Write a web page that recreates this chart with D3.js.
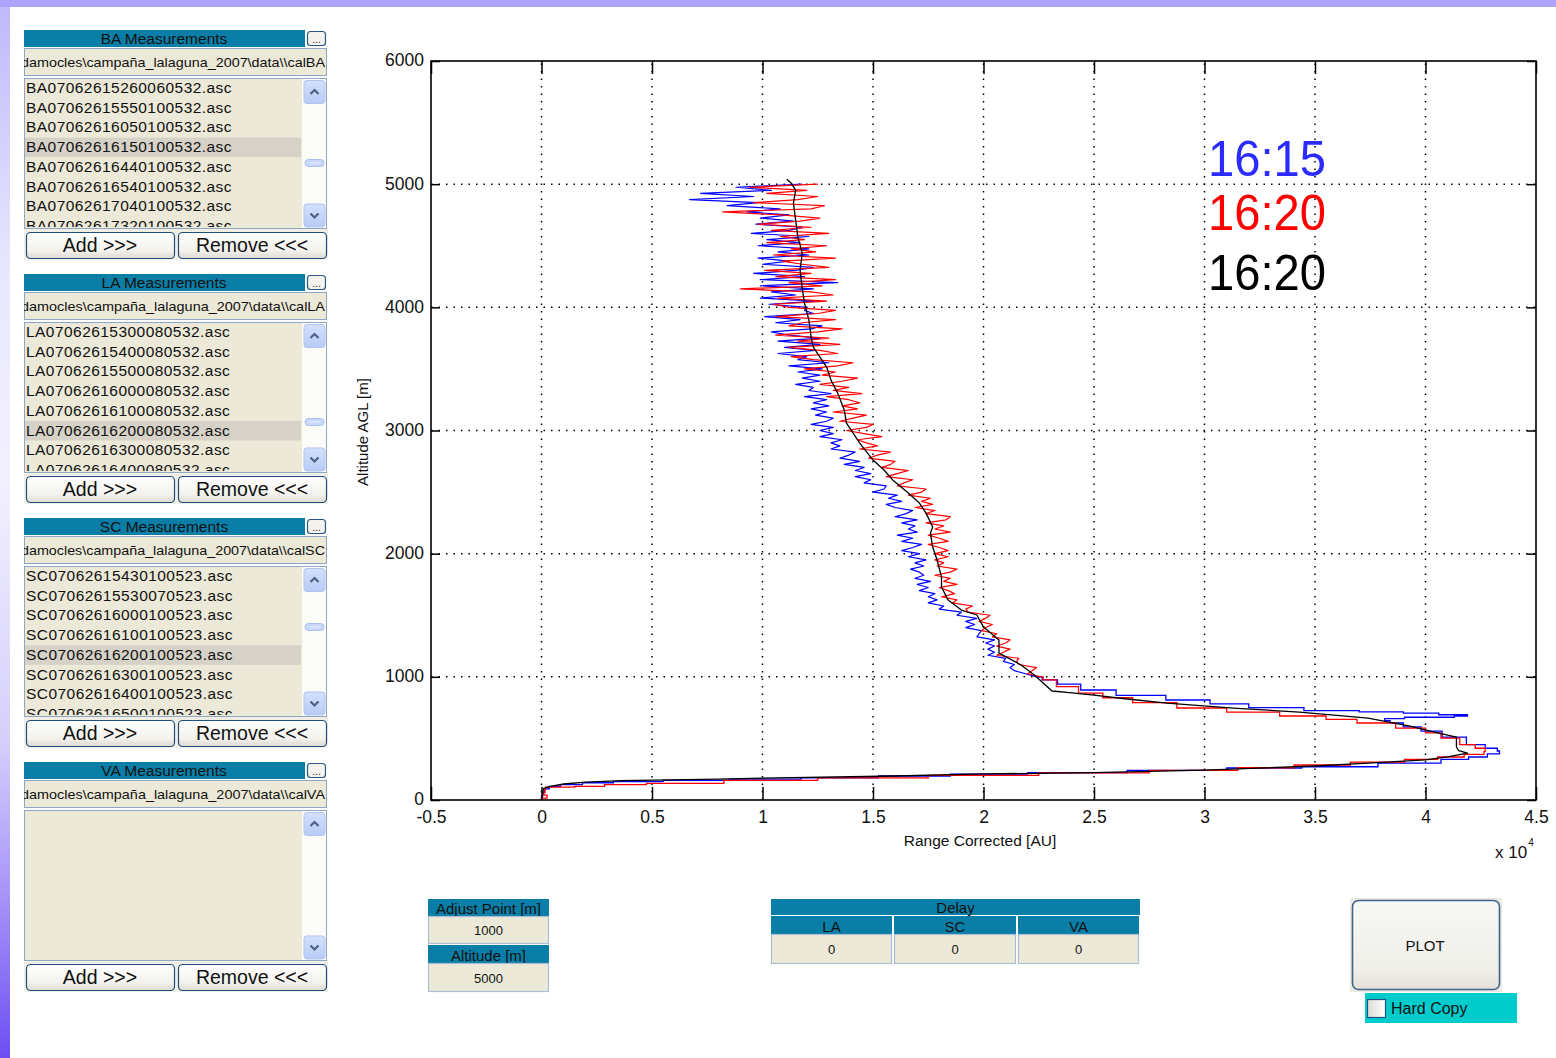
<!DOCTYPE html>
<html><head><meta charset="utf-8">
<script src="https://cdn.jsdelivr.net/npm/d3@7"></script>
<style>body{margin:0;background:#fff;}svg{display:block;}</style>
</head><body>
<svg id="c" width="1556" height="1058"></svg>
<script>
// ---------------- DATA ----------------
const xTicks = [-0.5, 0, 0.5, 1, 1.5, 2, 2.5, 3, 3.5, 4, 4.5];
const yTicks = [0, 1000, 2000, 3000, 4000, 5000, 6000];
const seriesNames = ["16:15", "16:20", "16:20"];
const seriesColors = ["#0000ff", "#ff0000", "#000000"];
const legendColors = ["#2b2bff", "#ff0000", "#000000"];

// lower part of the profiles (altitude m, range corrected x1e4)
const blueLower = [[0,0],[30,0],[60,0.01],[90,0.02],[110,0.05],[125,0.12],[140,0.25],[150,0.40],[160,0.70],[170,1.00],[180,1.35],[195,1.70],[210,2.00],[222,2.40],[240,2.90],[260,3.30],[270,3.58],[300,3.99],[330,4.15],[349,4.24],[375,4.32],[398,4.35],[420,4.30],[450,4.24],[511,4.13],[560,4.02],[593,3.94],[625,3.86],[645,3.82],[660,3.81],[672,4.00],[682,4.26],[692,4.12],[705,4.00],[715,3.80],[725,3.60],[750,3.30],[780,3.10],[812,2.95],[850,2.70],[893,2.50],[940,2.38],[975,2.29]];
const redLower = [[0,0],[15,0],[30,0.05],[40,0.00],[60,0.02],[90,0.01],[105,0.03],[110,0.27],[125,0.30],[135,0.65],[160,1.00],[180,1.50],[200,2.00],[220,2.50],[240,3.00],[262,3.30],[284,3.51],[308,3.81],[330,4.00],[349,4.11],[370,4.24],[395,4.29],[420,4.25],[450,4.20],[503,4.11],[545,4.03],[584,3.97],[625,3.76],[655,3.62],[682,3.48],[714,3.20],[747,3.00],[790,2.75],[830,2.60],[868,2.48],[920,2.38],[975,2.28]];
// noisy part, altitude bins 1000..5000 m every 25 m
const upperAlt = d3.range(1000, 5001, 25);
const redUpper = [
2.26,2.20,2.22,2.24,2.16,2.15,2.16,2.06,2.09,2.12,
2.06,2.10,2.12,2.04,2.06,1.99,2.01,2.04,1.98,2.01,
2.03,1.93,1.92,1.95,1.86,1.88,1.81,1.87,1.84,1.80,
1.88,1.82,1.85,1.78,1.85,1.88,1.79,1.82,1.78,1.84,
1.78,1.84,1.80,1.75,1.84,1.80,1.75,1.85,1.78,1.82,
1.74,1.83,1.85,1.74,1.78,1.69,1.77,1.72,1.76,1.66,
1.72,1.74,1.61,1.64,1.68,1.56,1.61,1.66,1.54,1.58,
1.60,1.48,1.52,1.58,1.44,1.52,1.47,1.43,1.54,1.46,
1.38,1.47,1.50,1.35,1.41,1.47,1.32,1.43,1.36,1.44,
1.39,1.29,1.45,1.32,1.39,1.26,1.36,1.43,1.27,1.33,
1.19,1.34,1.41,1.23,1.13,1.34,1.26,1.12,1.35,1.16,
1.30,1.06,1.25,1.36,1.12,1.18,1.33,1.06,1.25,1.33,
1.12,1.05,1.29,1.07,1.32,1.22,0.90,1.27,1.12,1.33,
1.06,1.22,1.01,1.30,1.18,1.09,1.33,1.05,1.24,1.13,
1.29,1.02,1.19,1.08,1.30,1.04,1.22,0.98,1.17,1.26,
1.08,0.82,1.22,1.28,0.96,1.16,1.25,1.02,1.20,0.94,
1.25];
const blueUpper = [
2.24,2.19,2.14,2.12,2.14,2.09,2.10,2.02,2.05,2.02,
2.05,2.01,2.05,1.97,1.98,1.99,1.92,1.96,1.92,1.97,
1.88,1.90,1.80,1.82,1.75,1.79,1.75,1.78,1.71,1.75,
1.70,1.76,1.69,1.73,1.71,1.67,1.73,1.69,1.74,1.66,
1.71,1.63,1.68,1.72,1.63,1.68,1.61,1.70,1.66,1.69,
1.63,1.70,1.60,1.65,1.68,1.60,1.56,1.63,1.57,1.61,
1.50,1.55,1.56,1.46,1.49,1.42,1.49,1.42,1.46,1.37,
1.44,1.35,1.39,1.42,1.31,1.35,1.31,1.36,1.26,1.32,
1.26,1.32,1.22,1.29,1.32,1.24,1.29,1.22,1.30,1.23,
1.29,1.19,1.31,1.21,1.23,1.15,1.26,1.18,1.26,1.16,
1.27,1.12,1.30,1.16,1.20,1.07,1.24,1.10,1.26,1.07,
1.26,1.12,1.04,1.22,1.27,1.06,1.17,1.01,1.23,1.19,
1.20,1.03,1.24,0.99,1.15,1.04,1.23,0.99,1.34,0.99,
1.19,0.96,1.15,1.23,1.00,1.12,0.98,1.21,1.07,1.21,
0.98,1.17,1.02,1.21,0.95,1.12,1.18,0.97,1.14,0.99,
1.12,0.93,1.08,0.84,0.98,0.67,0.96,0.72,1.04,0.88,
1.18];
const blackProfile = [[0,0],[50,0.005],[95,0.01],[110,0.04],[130,0.10],[145,0.20],[158,0.36],[170,0.80],[178,1.00],[195,1.60],[212,2.00],[222,2.50],[243,3.00],[276,3.50],[300,3.74],[325,4.00],[350,4.10],[381,4.19],[400,4.15],[430,4.14],[511,4.14],[552,4.04],[600,3.93],[665,3.74],[714,3.43],[746,3.13],[787,2.83],[820,2.65],[852,2.50],[870,2.40],[885,2.31],[950,2.27],[1015,2.23],[1096,2.17],[1193,2.07],[1300,2.07],[1404,2.00],[1502,1.97],[1542,1.90],[1623,1.84],[1729,1.81],[1810,1.81],[1948,1.79],[2054,1.77],[2167,1.76],[2216,1.77],[2329,1.74],[2411,1.71],[2492,1.66],[2597,1.59],[2679,1.55],[2760,1.50],[2898,1.44],[2979,1.41],[3060,1.38],[3166,1.37],[3304,1.34],[3409,1.31],[3515,1.29],[3596,1.26],[3677,1.23],[3758,1.22],[3896,1.21],[4034,1.19],[4150,1.18],[4302,1.17],[4440,1.18],[4570,1.16],[4708,1.15],[4846,1.14],[4951,1.15],[5008,1.13],[5040,1.11]];

// GUI content
const baFiles = ["BA07062615260060532.asc","BA07062615550100532.asc","BA07062616050100532.asc","BA07062616150100532.asc","BA07062616440100532.asc","BA07062616540100532.asc","BA07062617040100532.asc","BA07062617320100532.asc"];
const laFiles = ["LA07062615300080532.asc","LA07062615400080532.asc","LA07062615500080532.asc","LA07062616000080532.asc","LA07062616100080532.asc","LA07062616200080532.asc","LA07062616300080532.asc","LA07062616400080532.asc"];
const scFiles = ["SC07062615430100523.asc","SC07062615530070523.asc","SC07062616000100523.asc","SC07062616100100523.asc","SC07062616200100523.asc","SC07062616300100523.asc","SC07062616400100523.asc","SC07062616500100523.asc"];
const vaFiles = [];
const panelTitles = ["BA Measurements","LA Measurements","SC Measurements","VA Measurements"];
const panelPaths = ["damocles\\campaña_lalaguna_2007\\data\\\\calBA","damocles\\campaña_lalaguna_2007\\data\\\\calLA","damocles\\campaña_lalaguna_2007\\data\\\\calSC","damocles\\campaña_lalaguna_2007\\data\\\\calVA"];
const delayLabels = ["LA","SC","VA"];
const delayValues = ["0","0","0"];
const adjustPoint = "1000";
const altitudeValue = "5000";

// ---------------- DRAW ----------------
const FONT = "'Liberation Sans', Arial, sans-serif";
const HEAD = "#0a7ea6";
const BEIGE = "#ece9d8";
const BOXSTROKE = "#8ea7c4";
const svg = d3.select("#c");
const defs = svg.append("defs");

function grad(id, stops, vertical=true){
  const g = defs.append("linearGradient").attr("id", id).attr("x1",0).attr("y1",0).attr("x2", vertical?0:1).attr("y2", vertical?1:0);
  stops.forEach(([o,c]) => g.append("stop").attr("offset", o).attr("stop-color", c));
}
grad("leftGrad", [[0,"#c0b7fb"],[0.25,"#e8e6fe"],[0.45,"#f2f1fe"],[0.7,"#d5cffc"],[0.85,"#a592f8"],[1,"#6e4ef2"]]);
grad("btnGrad", [[0,"#ffffff"],[0.7,"#f3f2ed"],[1,"#dcd9cf"]]);
grad("arrGrad", [[0,"#d4e0fc"],[1,"#b8cbf6"]]);
grad("plotGrad", [[0,"#f8f8f5"],[0.8,"#efeee8"],[1,"#e2e0d6"]]);
grad("chkGrad", [[0,"#dcdcd6"],[1,"#ffffff"]], false);

svg.append("rect").attr("width",1556).attr("height",1058).attr("fill","#fff");
svg.append("rect").attr("x",0).attr("y",0).attr("width",10).attr("height",1058).attr("fill","url(#leftGrad)");
svg.append("rect").attr("x",0).attr("y",0).attr("width",1556).attr("height",7).attr("fill","#aea3fd");

function button(g, x0, y0, w, h, label, fs){
  g.append("rect").attr("x",x0+0.5).attr("y",y0+0.5).attr("width",w).attr("height",h).attr("rx",4)
    .attr("fill","url(#btnGrad)").attr("stroke","#1f4f82").attr("stroke-width",1.2);
  g.append("text").attr("x",x0+w/2).attr("y",y0+h/2+7).attr("text-anchor","middle")
    .attr("font-family",FONT).attr("font-size",fs).attr("fill","#111").text(label);
}
function arrowBtn(g, x0, y0, up){
  g.append("rect").attr("x",x0).attr("y",y0).attr("width",21).attr("height",23).attr("rx",3)
    .attr("fill","url(#arrGrad)").attr("stroke","#b2c5ef");
  const cx = x0+10.5, cy = y0+11.5;
  const p = up ? `M${cx-4},${cy+2}L${cx},${cy-2}L${cx+4},${cy+2}` : `M${cx-4},${cy-2}L${cx},${cy+2}L${cx+4},${cy-2}`;
  g.append("path").attr("d",p).attr("fill","none").attr("stroke","#4d6185").attr("stroke-width",2.2);
}

function panel(idx, y0, files, sel, thumbY){
  const g = svg.append("g");
  g.append("rect").attr("x",24).attr("y",y0+198).attr("width",304).attr("height",32).attr("fill","#f1efe4");
  g.append("rect").attr("x",24).attr("y",y0).attr("width",281).attr("height",17).attr("fill",HEAD);
  g.append("text").attr("x",164).attr("y",y0+14).attr("text-anchor","middle").attr("font-family",FONT)
    .attr("font-size",15.5).attr("fill","#111").text(panelTitles[idx]);
  g.append("rect").attr("x",307.5).attr("y",y0+1.5).attr("width",18).attr("height",14).attr("rx",3)
    .attr("fill","#f3f2ec").attr("stroke","#2b5788").attr("stroke-width",1.2);
  g.append("text").attr("x",316.5).attr("y",y0+13).attr("text-anchor","middle").attr("font-family",FONT)
    .attr("font-size",10).attr("fill","#222").text("...");
  const cid = "clipP"+idx;
  defs.append("clipPath").attr("id",cid).append("rect").attr("x",24).attr("y",y0+18).attr("width",303).attr("height",27);
  g.append("rect").attr("x",24.5).attr("y",y0+18.5).attr("width",302).attr("height",27).attr("fill",BEIGE).attr("stroke",BOXSTROKE);
  g.append("text").attr("clip-path",`url(#${cid})`).attr("x",21).attr("y",y0+36.5).attr("font-family",FONT)
    .attr("font-size",13.5).attr("textLength",304).attr("lengthAdjust","spacingAndGlyphs").attr("fill","#111").text(panelPaths[idx]);
  const lid = "clipL"+idx;
  defs.append("clipPath").attr("id",lid).append("rect").attr("x",24).attr("y",y0+49).attr("width",278).attr("height",148);
  g.append("rect").attr("x",24.5).attr("y",y0+48.5).attr("width",302).attr("height",150).attr("fill",BEIGE).attr("stroke",BOXSTROKE);
  const lg = g.append("g").attr("clip-path",`url(#${lid})`);
  files.forEach((f,i) => {
    const by = y0+63+i*19.7;
    if (i === sel) lg.append("rect").attr("x",25).attr("y",by-14.5).attr("width",276).attr("height",19.5).attr("fill","#d6d2c8");
    lg.append("text").attr("x",26).attr("y",by).attr("font-family",FONT).attr("font-size",15.5)
      .attr("letter-spacing",0.45).attr("fill","#111").text(f);
  });
  g.append("rect").attr("x",302).attr("y",y0+49).attr("width",24).attr("height",149).attr("fill","#fbfbf8");
  arrowBtn(g, 304, y0+50.5, true);
  arrowBtn(g, 304, y0+174, false);
  if (thumbY !== null){
    g.append("rect").attr("x",305).attr("y",thumbY-3.5).attr("width",19).attr("height",7).attr("rx",3.5)
      .attr("fill","#c9d8fb").attr("stroke","#a9bff0");
    g.append("line").attr("x1",310).attr("x2",319).attr("y1",thumbY).attr("y2",thumbY).attr("stroke","#eef3fe");
  }
  button(g, 26, y0+202, 148, 26, "Add >>>", 19.5);
  button(g, 178, y0+202, 148, 26, "Remove <<<", 19.5);
}
panel(0, 30, baFiles, 3, 163);
panel(1, 274, laFiles, 5, 422);
panel(2, 518, scFiles, 4, 627);
panel(3, 762, vaFiles, -1, null);

// ---------- chart ----------
const x = d3.scaleLinear().domain([-0.5, 4.5]).range([431, 1536]);
const y = d3.scaleLinear().domain([0, 6000]).range([800, 61]);
const grid = svg.append("g");
xTicks.slice(1,-1).forEach(t => grid.append("line").attr("x1",x(t)).attr("x2",x(t)).attr("y1",y(0)).attr("y2",y(6000))
  .attr("stroke","#000").attr("stroke-width",1.5).attr("stroke-dasharray","1.5,6"));
yTicks.slice(1,-1).forEach(t => grid.append("line").attr("x1",x(-0.5)).attr("x2",x(4.5)).attr("y1",y(t)).attr("y2",y(t))
  .attr("stroke","#000").attr("stroke-width",1.5).attr("stroke-dasharray","1.5,6"));

function styleAxis(g){
  g.select(".domain").remove();
  g.selectAll("line").attr("stroke","#000").attr("stroke-width",1.5);
  g.selectAll("text").attr("font-family",FONT).attr("font-size",17.5).attr("fill","#111");
}
const fmt = d => String(d);
svg.append("g").attr("transform",`translate(0,${y(0)})`)
  .call(d3.axisBottom(x).tickValues(xTicks).tickSizeInner(-13).tickSizeOuter(0).tickPadding(11).tickFormat(fmt)).call(styleAxis);
svg.append("g").attr("transform",`translate(0,${y(6000)})`)
  .call(d3.axisTop(x).tickValues(xTicks).tickSizeInner(-13).tickSizeOuter(0).tickFormat("")).call(styleAxis);
const yAx = svg.append("g").attr("transform",`translate(${x(-0.5)},0)`)
  .call(d3.axisLeft(y).tickValues(yTicks).tickSizeInner(-9).tickSizeOuter(0).tickPadding(7).tickFormat(fmt)).call(styleAxis);
yAx.selectAll("text").attr("dy","0.28em");
svg.append("g").attr("transform",`translate(${x(4.5)},0)`)
  .call(d3.axisRight(y).tickValues(yTicks).tickSizeInner(-9).tickSizeOuter(0).tickFormat("")).call(styleAxis);
svg.append("rect").attr("x",x(-0.5)).attr("y",y(6000)).attr("width",x(4.5)-x(-0.5)).attr("height",y(0)-y(6000))
  .attr("fill","none").attr("stroke","#000").attr("stroke-width",1.6);

// lower (range-bin stairs) drawn stepwise, upper noisy part drawn point to point
const stepLine = d3.line().x(d => x(d[1])).y(d => y(d[0])).curve(d3.curveStep);
const line = d3.line().x(d => x(d[1])).y(d => y(d[0]));
const blueUp = upperAlt.map((a,i) => [a, blueUpper[i]]);
const redUp = upperAlt.map((a,i) => [a, redUpper[i]]);
function drawProfile(lower, upper, color){
  svg.append("path").attr("d", stepLine(lower.concat([upper[0]]))).attr("fill","none").attr("stroke",color).attr("stroke-width",1.3);
  svg.append("path").attr("d", line(upper)).attr("fill","none").attr("stroke",color).attr("stroke-width",1.2).attr("stroke-linejoin","round");
}
drawProfile(blueLower, blueUp, seriesColors[0]);
drawProfile(redLower, redUp, seriesColors[1]);
svg.append("path").attr("d", line(blackProfile)).attr("fill","none").attr("stroke",seriesColors[2])
  .attr("stroke-width",1.3).attr("stroke-linejoin","round");

const legY = [176, 230, 290];
seriesNames.forEach((n,i) => svg.append("text").attr("x",1208).attr("y",legY[i]).attr("font-family",FONT)
  .attr("font-size",50).attr("textLength",118).attr("lengthAdjust","spacingAndGlyphs").attr("fill",legendColors[i]).text(n));

svg.append("text").attr("x",980).attr("y",846).attr("text-anchor","middle").attr("font-family",FONT)
  .attr("font-size",15.5).attr("fill","#111").text("Range Corrected [AU]");
svg.append("text").attr("transform","translate(368,432) rotate(-90)").attr("text-anchor","middle").attr("font-family",FONT)
  .attr("font-size",15).attr("fill","#111").text("Altitude AGL [m]");
const ex = svg.append("text").attr("x",1495).attr("y",858).attr("font-family",FONT).attr("font-size",17).attr("fill","#111");
ex.append("tspan").text("x 10");
ex.append("tspan").attr("font-size",10).attr("dy",-12).attr("dx",1).text("4");

// ---------- bottom widgets ----------
function header(x0, y0, w, h, label, fs){
  svg.append("rect").attr("x",x0).attr("y",y0).attr("width",w).attr("height",h).attr("fill",HEAD);
  svg.append("text").attr("x",x0+w/2).attr("y",y0+h-2.5).attr("text-anchor","middle").attr("font-family",FONT)
    .attr("font-size",fs).attr("fill","#111").text(label);
}
function valueBox(x0, y0, w, h, label){
  svg.append("rect").attr("x",x0+0.5).attr("y",y0+0.5).attr("width",w-1).attr("height",h-1).attr("fill",BEIGE).attr("stroke","#a9bed6").attr("stroke-width",1.2);
  svg.append("text").attr("x",x0+w/2).attr("y",y0+h/2+5).attr("text-anchor","middle").attr("font-family",FONT)
    .attr("font-size",13).attr("fill","#111").text(label);
}
header(428, 899, 121, 17, "Adjust Point [m]", 15);
valueBox(428, 916, 121, 28, adjustPoint);
header(428, 945, 121, 18, "Altitude [m]", 15);
valueBox(428, 963, 121, 29, altitudeValue);

header(771, 899, 369, 16, "Delay", 15);
const dx = [771, 894, 1018], dw = [121, 122, 121];
delayLabels.forEach((l,i) => { header(dx[i], 916, dw[i], 18, l, 15); valueBox(dx[i], 934, dw[i], 30, delayValues[i]); });

svg.append("rect").attr("x",1350).attr("y",898).attr("width",152).attr("height",94).attr("fill","#ebe9e0");
svg.append("rect").attr("x",1352.5).attr("y",900.5).attr("width",147).attr("height",89).attr("rx",6)
  .attr("fill","url(#plotGrad)").attr("stroke","#41648f").attr("stroke-width",1.6);
svg.append("text").attr("x",1425).attr("y",951).attr("text-anchor","middle").attr("font-family",FONT)
  .attr("font-size",15).attr("fill","#111").text("PLOT");
svg.append("rect").attr("x",1365).attr("y",993).attr("width",152).attr("height",30).attr("fill","#00cccc");
svg.append("rect").attr("x",1367.5).attr("y",999.5).attr("width",18).attr("height",18)
  .attr("fill","url(#chkGrad)").attr("stroke","#1c5180").attr("stroke-width",1.2);
svg.append("text").attr("x",1391).attr("y",1014).attr("font-family",FONT).attr("font-size",16).attr("fill","#111").text("Hard Copy");
</script>
</body></html>
